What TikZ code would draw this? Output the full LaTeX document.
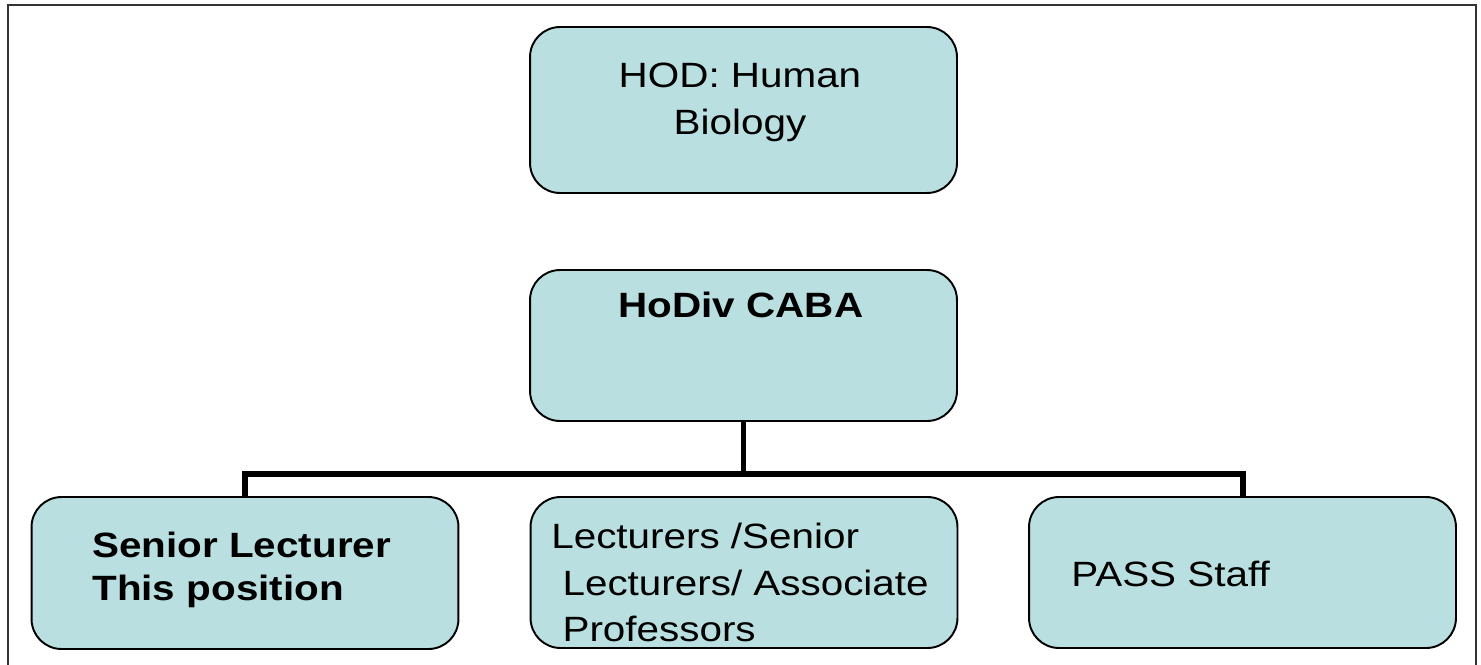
\documentclass[tikz,border=0pt]{standalone}
\usepackage{fontspec}
\setmainfont{Liberation Sans}[FakeStretch=1.15]
\usepackage{tikz}
\definecolor{boxfill}{RGB}{185,223,224}
\tikzset{
  posbox/.style={draw, fill=boxfill, line width=1.1pt, rounded corners=0.6cm, minimum width=8.54cm},
  postext/.style={inner sep=0pt, font=\fontsize{20}{26.5}\selectfont},
  orgline/.style={line width=3.4pt, line join=miter}
}

\begin{document}
\begin{tikzpicture}[x=0.02cm,y=-0.02cm]
\useasboundingbox (0,0) rectangle (1481,664);
\draw[line width=1.1pt, black!80] (8,670) -- (8,5) -- (1476,5) -- (1476,670);
\node[posbox, minimum height=3.32cm] (hod) at (743.5,110) {};
\node[posbox, minimum height=3.02cm] (caba) at (743.5,345.5) {};
\node[posbox, minimum height=3.04cm] (senior) at (245,573) {};
\node[posbox, minimum height=3.02cm] (lect) at (744,572.5) {};
\node[posbox, minimum height=3.02cm] (pass) at (1242.5,572.5) {};
\node[postext, anchor=north, align=center] (hodtext) at (740,63) {HOD: Human\\Biology};
\node[postext, anchor=north, font=\fontsize{20}{26.5}\selectfont\bfseries] (cabatext) at (741,292) {HoDiv CABA};
\node[postext, anchor=north west, align=left, font=\fontsize{20}{24.5}\selectfont\bfseries] (seniortext) at (92,532) {Senior Lecturer\\This position};
\node[postext, anchor=north west, align=left] (lecttext) at (551,523) {Lecturers /Senior\\~Lecturers/ Associate\\~Professors};
\node[postext, anchor=north west] (passtext) at (1071,561) {PASS Staff};
\draw[orgline] (caba.south) -- ++(0,52) coordinate (bus);
\draw[orgline] (senior.north) |- (bus) -| (pass.north);
\end{tikzpicture}
\end{document}
